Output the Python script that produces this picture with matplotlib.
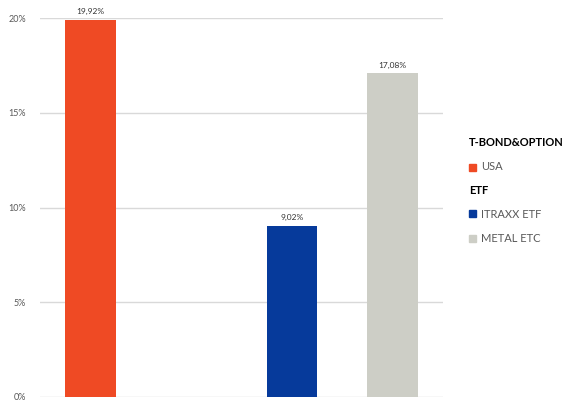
import numpy as np
import matplotlib
matplotlib.use("Agg")
import matplotlib.pyplot as plt
from matplotlib.patches import Rectangle

plt.rcParams['font.family'] = ['Lato', 'DejaVu Sans']

# data
slots = ["USA", "", "ITRAXX ETF", "METAL ETC"]
values = [19.92, np.nan, 9.02, 17.08]
colors = ["#EF4A24", "#FFFFFF", "#063A9B", "#CDCEC6"]
yticks = [0, 5, 10, 15, 20]
groups = [("T-BOND&OPTION", ["USA"]), ("ETF", ["ITRAXX ETF", "METAL ETC"])]

fig = plt.figure(figsize=(5.73, 4.0), dpi=100)
ax = fig.add_axes([40 / 573, 3 / 400, 403 / 573, 379 / 400])

x = np.arange(len(slots))
for i in range(len(slots)):
    if np.isnan(values[i]):
        continue
    ax.bar(x[i], values[i], width=0.5, color=colors[i], zorder=2)
    ax.text(x[i], values[i] + 0.25, ("%.2f%%" % values[i]).replace(".", ","),
            ha="center", va="bottom", fontsize=6, color="#333333", clip_on=False)

ax.set_xlim(-0.5, len(slots) - 0.5)
ax.set_ylim(0, 20)
ax.set_yticks(yticks)
ax.set_yticklabels(["%d%%" % v for v in yticks], fontsize=6.5, color="#595959")
ax.set_xticks([])
ax.tick_params(axis="y", length=0, pad=10)
ax.grid(axis="y", color="#D9D9D9", linewidth=1, zorder=0)
for s in ax.spines.values():
    s.set_visible(False)

# grouped legend
ypix = 143
for head, items in groups:
    fig.text(469 / 573, 1 - ypix / 400, head, fontsize=8, fontweight="bold",
             color="black", va="center", ha="left")
    ypix += 24
    for name in items:
        c = colors[slots.index(name)]
        fig.patches.append(Rectangle((469 / 573, 1 - (ypix + 3.5) / 400), 7 / 573, 7 / 400,
                                     transform=fig.transFigure, color=c))
        fig.text(481 / 573, 1 - ypix / 400, name, fontsize=8, color="#595959",
                 va="center", ha="left")
        ypix += 24
    ypix -= 1

fig.savefig("out.png", dpi=100)
